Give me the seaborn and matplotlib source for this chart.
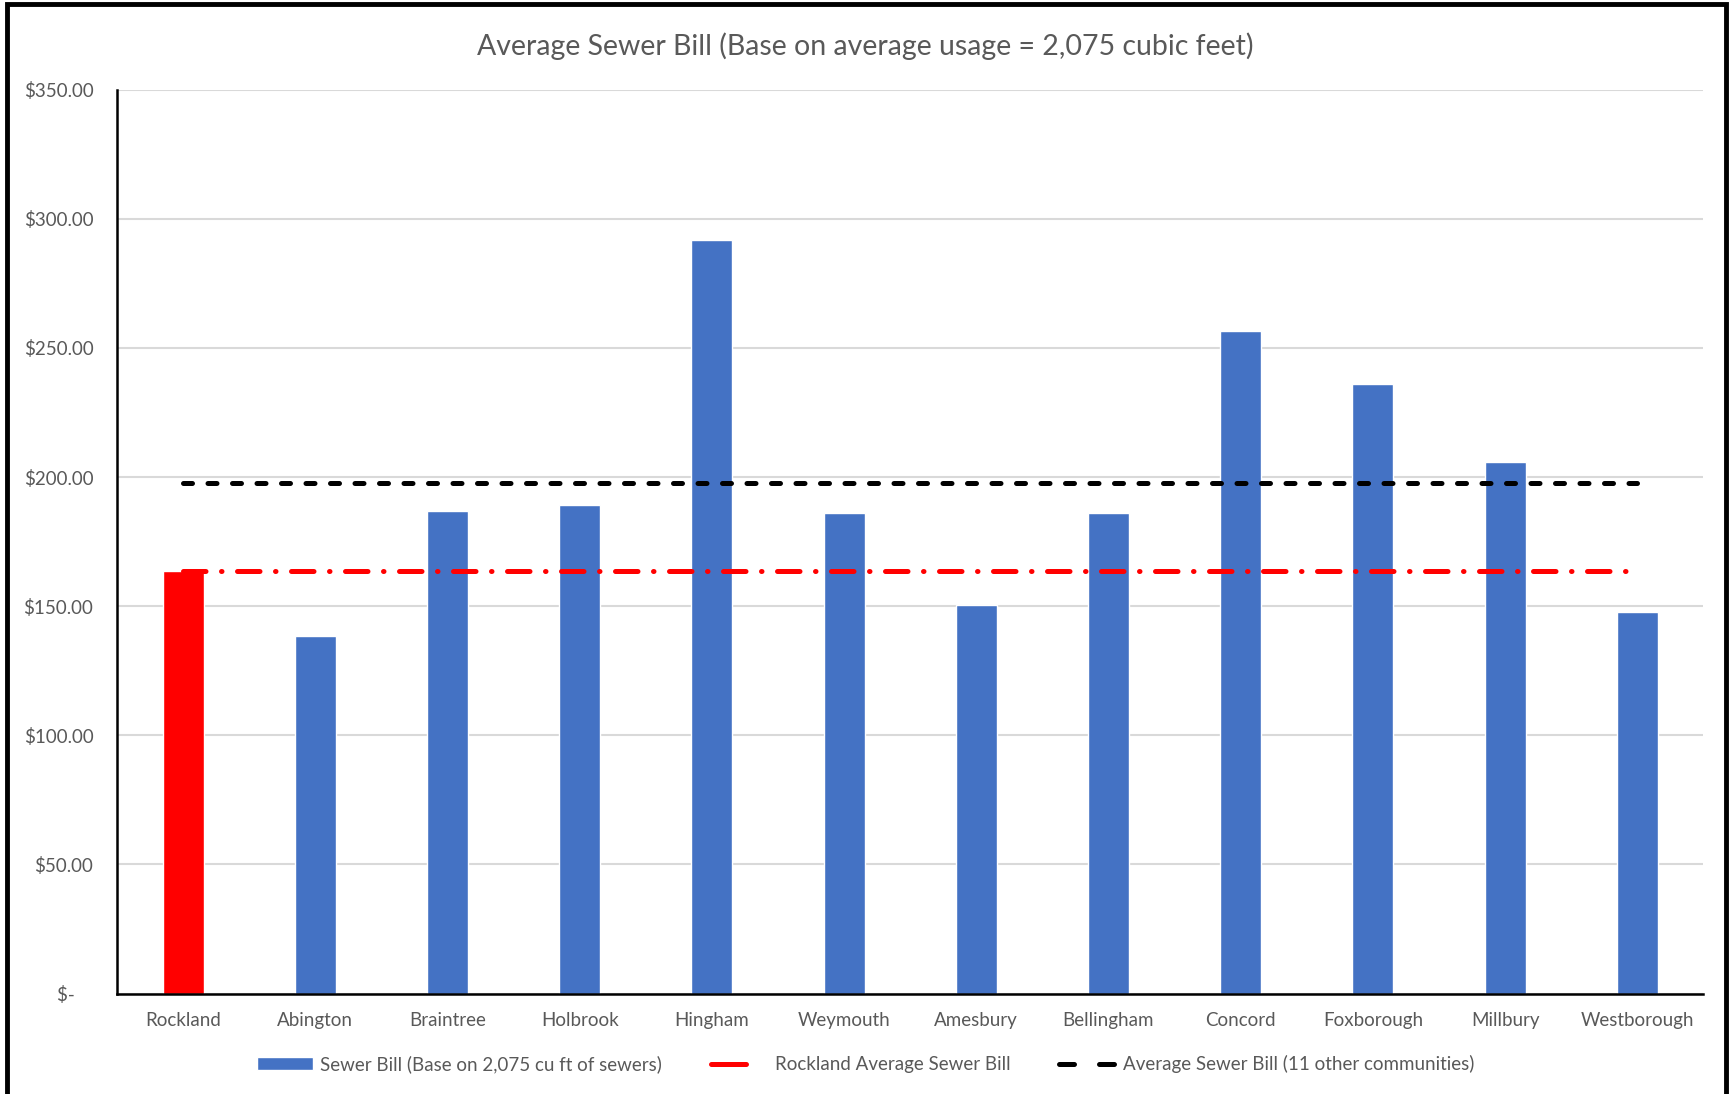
import matplotlib
matplotlib.use("Agg")
import matplotlib.pyplot as plt
import seaborn as sns
import pandas as pd
from matplotlib.lines import Line2D
from matplotlib.patches import Patch, Rectangle

# values
towns = ["Rockland", "Abington", "Braintree", "Holbrook", "Hingham", "Weymouth",
         "Amesbury", "Bellingham", "Concord", "Foxborough", "Millbury", "Westborough"]
bills = [163.7, 138.5, 186.8, 189.3, 291.9, 185.9, 150.4, 185.9, 256.4, 235.9, 206.0, 147.9]
rockland_avg = 163.7
others_avg = 197.8
yticks = [0, 50, 100, 150, 200, 250, 300, 350]
ytick_labels = ["$-    ", "$50.00", "$100.00", "$150.00", "$200.00", "$250.00", "$300.00", "$350.00"]

sns.set_style("white")
plt.rcParams["font.family"] = ["Lato", "DejaVu Sans"]

df = pd.DataFrame({"town": towns, "bill": bills})
colors = ["#FF0000"] + ["#4472C4"] * (len(towns) - 1)

fig = plt.figure(figsize=(17.31, 10.94), dpi=100)
ax = fig.add_axes([0.0676, 0.0918, 0.9164, 0.8262])

sns.barplot(data=df, x="town", y="bill", hue="town", palette=colors, legend=False,
            width=0.31, saturation=1, ax=ax, zorder=2)

lw = 3.6
xs = list(range(len(towns)))
ax.plot(xs, [others_avg] * len(xs), color="black", lw=lw, dashes=(1.8, 3.1),
        dash_capstyle="round", zorder=3)
ax.plot(xs, [rockland_avg] * len(xs), color="#FF0000", lw=lw, dashes=(4.5, 3.1, 0.1, 3.1),
        dash_capstyle="round", zorder=3)

ax.set_xlim(-0.5, len(towns) - 0.5)
ax.set_ylim(0, 350)
ax.set_yticks(yticks)
ax.set_yticklabels(ytick_labels)
ax.yaxis.grid(True, color="#D9D9D9", lw=1.5, zorder=0)
ax.set_axisbelow(True)
ax.set_xlabel("")
ax.set_ylabel("")
ax.tick_params(axis="both", colors="#595959", labelsize=13.5, length=0)
ax.tick_params(axis="x", pad=13)
ax.tick_params(axis="y", pad=17)
for s in ["top", "right"]:
    ax.spines[s].set_visible(False)
for s in ["left", "bottom"]:
    ax.spines[s].set_color("black")
    ax.spines[s].set_linewidth(1.8)

fig.text(0.5, 0.958, "Average Sewer Bill (Base on average usage = 2,075 cubic feet)",
         ha="center", va="center", fontsize=20.5, color="#595959")

handles = [
    Patch(facecolor="#4472C4", label="Sewer Bill (Base on 2,075 cu ft of sewers)"),
    Line2D([0], [0], color="#FF0000", lw=lw, dashes=(7, 10), dash_capstyle="round",
           label="Rockland Average Sewer Bill"),
    Line2D([0], [0], color="black", lw=lw, dashes=(3, 5), dash_capstyle="round",
           label="Average Sewer Bill (11 other communities)"),
]
leg = fig.legend(handles=handles, loc="center", bbox_to_anchor=(0.5, 0.027), ncol=3,
                 frameon=False, fontsize=13.5, handlelength=3.0, columnspacing=2.6,
                 handletextpad=0.4)
for t in leg.get_texts():
    t.set_color("#595959")

fig.patches.append(Rectangle((0.004, -0.01), 0.993, 1.006, transform=fig.transFigure,
                             fill=False, edgecolor="black", lw=3.5))

fig.savefig("out.png", dpi=100)
